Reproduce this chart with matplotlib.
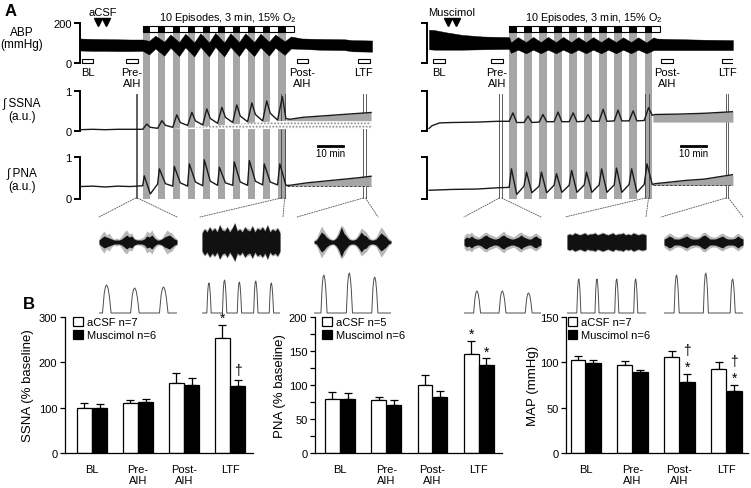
import matplotlib
matplotlib.use('Agg')
import matplotlib.pyplot as plt
from matplotlib.patches import Patch, ConnectionPatch

plt.rcParams['font.family'] = ['Liberation Sans', 'DejaVu Sans']
plt.rcParams['mathtext.fontset'] = 'custom'
plt.rcParams['mathtext.rm'] = 'Liberation Sans'
plt.rcParams['hatch.linewidth'] = 0.9
plt.rcParams['hatch.color'] = '#8c8c8c'

W, H = 751, 489

# ======================= Panel B data =======================
groups = ['BL', 'Pre-\nAIH', 'Post-\nAIH', 'LTF']
ssna_acsf = [99, 111, 154, 254]
ssna_acsf_err = [11, 6, 22, 29]
ssna_musc = [99, 112, 150, 148]
ssna_musc_err = [9, 7, 16, 13]
pna_acsf = [80, 78, 100, 146]
pna_acsf_err = [10, 4, 14, 19]
pna_musc = [80, 71, 82, 129]
pna_musc_err = [8, 7, 9, 10]
map_acsf = [103, 97, 106, 93]
map_acsf_err = [4, 4, 7, 7]
map_musc = [99.5, 89, 78.5, 68.5]
map_musc_err = [3.5, 2, 9, 7]
ssna_acsf_sig = ['', '', '', '*']
ssna_musc_sig = ['', '', '', '†']
pna_acsf_sig = ['', '', '', '*']
pna_musc_sig = ['', '', '', '*']
map_acsf_sig = ['', '', '', '']
map_musc_sig = ['', '', '†\n*', '†\n*']

# ======================= Panel A data (minutes) =======================
ep_starts_l = [24.9, 30.9, 36.8, 42.8, 48.7, 54.7, 60.6, 66.6, 72.5, 78.7]
ep_starts_r = [32.6, 38.6, 44.5, 50.5, 56.5, 62.4, 68.4, 74.3, 80.3, 86.4]
ep_bar_len = 60.0
win_l = [0.7, 18.3, 86.0, 110.3]
win_r = [2.4, 25.4, 92.9, 117.1]
win_labels = ['BL', 'Pre-\nAIH', 'Post-\nAIH', 'LTF']
drug_t_l = [7.3, 10.5]
drug_t_r = [8.3, 11.5]
mark_l = [[22.1, 22.8], [79.8, 81.2], [112.4, 113.3]]
mark_r = [[28.7, 29.6], [86.6, 87.9], [118.6, 119.6]]
tmax_l = 115.9
tmax_r = 121.4

# ABP envelopes (mmHg)
abp_l_pre_t = [0, 5, 10, 15, 20, 24.9]
abp_l_pre_hi = [120, 118, 117, 116, 115, 115]
abp_l_pre_lo = [60, 58, 58, 57, 57, 58]
abp_l_hyp_hi = [108, 104, 102, 100, 100, 100, 102, 102, 104, 106]
abp_l_hyp_lo = [40, 34, 32, 30, 30, 30, 32, 32, 34, 38]
abp_l_rec_hi = [134, 140, 144, 146, 148, 146, 146, 144, 140, 130]
abp_l_rec_lo = [70, 74, 76, 78, 78, 78, 76, 76, 74, 70]
abp_l_post_t = [88, 95, 105, 108, 115.9]
abp_l_post_hi = [120, 118, 116, 112, 110]
abp_l_post_lo = [68, 64, 62, 56, 54]

abp_r_pre_t = [0.8, 3, 8, 14, 22, 32.6]
abp_r_pre_hi = [164, 162, 150, 138, 130, 127]
abp_r_pre_lo = [66, 64, 64, 64, 66, 68]
abp_r_hyp_hi = [100, 102, 102, 102, 102, 102, 102, 102, 102, 100]
abp_r_hyp_lo = [48, 46, 46, 46, 46, 46, 46, 46, 46, 46]
abp_r_rec_hi = [127, 128, 128, 128, 127, 127, 126, 126, 126, 126]
abp_r_rec_lo = [64, 64, 64, 64, 64, 64, 64, 64, 64, 62]
abp_r_post_t = [91, 95, 110, 121.4]
abp_r_post_hi = [120, 118, 114, 112]
abp_r_post_lo = [62, 62, 62, 62]

# Integrated SSNA / PNA (a.u.)
ssna_l_pre_t = [0, 5, 10, 15, 20, 24.9]
ssna_l_pre_v = [0.02, 0.03, 0.02, 0.03, 0.03, 0.03]
ssna_l_peak = [0.16, 0.245, 0.39, 0.455, 0.54, 0.58, 0.64, 0.69, 0.74, 0.85]
ssna_l_mid = [0.08, 0.13, 0.2, 0.24, 0.3, 0.33, 0.36, 0.4, 0.43, 0.3]
ssna_l_trough = [0.055, 0.08, 0.125, 0.14, 0.18, 0.2, 0.22, 0.24, 0.26]
ssna_l_post_t = [83.3, 88.5, 102, 115.5]
ssna_l_post_v = [0.28, 0.33, 0.39, 0.45]
ssna_l_hatch_t = [37, 50, 60, 70, 82, 115.5]
ssna_l_hatch_top = [0.04, 0.1, 0.15, 0.2, 0.245, 0.245]

pna_l_pre_t = [0, 5, 10, 15, 20, 24.9]
pna_l_pre_v = [0.29, 0.3, 0.28, 0.3, 0.29, 0.31]
pna_l_peak = [0.55, 0.72, 0.78, 0.84, 0.94, 0.76, 0.89, 0.92, 0.84, 0.84]
pna_l_mid = [0.11, 0.36, 0.38, 0.4, 0.42, 0.38, 0.4, 0.42, 0.4, 0.32]
pna_l_trough = [0.35, 0.3, 0.3, 0.31, 0.32, 0.32, 0.32, 0.33, 0.33]
pna_l_post_t = [83.3, 90, 100, 110, 115.5]
pna_l_post_v = [0.32, 0.38, 0.44, 0.5, 0.54]
pna_l_base = 0.3

ssna_r_pre_t = [0.8, 2.0, 5, 10, 20, 28, 32.6]
ssna_r_pre_v = [0.05, 0.12, 0.19, 0.2, 0.21, 0.23, 0.23]
ssna_r_peak = [0.44, 0.36, 0.4, 0.46, 0.44, 0.4, 0.53, 0.51, 0.49, 0.57]
ssna_r_mid = [0.2, 0.2, 0.22, 0.22, 0.22, 0.23, 0.23, 0.24, 0.24, 0.38]
ssna_r_trough = [0.2, 0.21, 0.22, 0.22, 0.23, 0.23, 0.24, 0.24, 0.25]
ssna_r_post_t = [90.5, 100, 110, 121.4]
ssna_r_post_v = [0.4, 0.41, 0.43, 0.47]
ssna_r_base = 0.21

pna_r_pre_t = [0.8, 10, 20, 28, 32.6]
pna_r_pre_v = [0.2, 0.22, 0.23, 0.26, 0.27]
pna_r_peak = [0.72, 0.64, 0.64, 0.6, 0.68, 0.64, 0.72, 0.74, 0.72, 0.84]
pna_r_mid = [0.1, 0.14, 0.14, 0.15, 0.15, 0.15, 0.15, 0.15, 0.15, 0.34]
pna_r_trough = [0.3, 0.3, 0.32, 0.32, 0.33, 0.33, 0.33, 0.34, 0.34]
pna_r_post_t = [90.5, 103, 110, 121.4]
pna_r_post_v = [0.36, 0.44, 0.47, 0.58]
pna_r_base = 0.32

# Insets: raw envelopes (px-like units) and integrated bursts
raw_grey = [
    [3, 8, 11, 7, 9, 5, 3, 4, 3, 6, 10, 12, 8, 9, 4, 3, 3, 4, 6, 11, 9, 12, 7, 4, 3, 4, 8, 12, 10, 9, 5, 3],
    [11, 14, 12, 16, 13, 15, 12, 18, 14, 13, 16, 12, 15, 20, 13, 14, 12, 16, 14, 13, 17, 12, 15, 14, 16, 13, 18, 12, 14, 13, 15, 11],
    [2, 4, 10, 16, 12, 8, 5, 3, 3, 6, 12, 17, 14, 9, 5, 3, 3, 5, 9, 14, 12, 10, 6, 3, 3, 5, 10, 15, 12, 8, 4, 2],
    [6, 9, 8, 10, 7, 6, 5, 7, 9, 10, 8, 7, 6, 5, 7, 9, 11, 8, 7, 6, 5, 7, 9, 10, 8, 7, 6, 6, 8, 9, 7, 5],
    [8, 9, 8, 10, 9, 8, 9, 10, 8, 9, 9, 10, 8, 9, 10, 9, 8, 9, 10, 8, 9, 9, 10, 8, 9, 8, 10, 9, 8, 9, 9, 8],
    [5, 7, 9, 8, 6, 5, 5, 6, 8, 9, 7, 6, 5, 5, 6, 9, 10, 8, 6, 5, 5, 6, 8, 9, 7, 6, 5, 5, 7, 9, 7, 5],
]
raw_black = [
    [2, 4, 6, 5, 4, 3, 2, 2, 2, 3, 5, 7, 5, 6, 3, 2, 2, 2, 3, 6, 5, 7, 4, 2, 2, 3, 5, 6, 7, 5, 3, 2],
    [9, 13, 10, 15, 11, 14, 10, 17, 12, 11, 15, 10, 14, 19, 11, 13, 10, 15, 12, 11, 16, 10, 14, 12, 15, 11, 17, 10, 13, 11, 14, 9],
    [1, 2, 6, 10, 8, 5, 3, 2, 2, 4, 8, 15, 9, 6, 3, 2, 2, 3, 6, 10, 7, 6, 3, 2, 2, 3, 6, 9, 7, 5, 2, 1],
    [3, 5, 4, 6, 4, 3, 3, 4, 6, 7, 5, 4, 3, 3, 4, 6, 7, 5, 4, 3, 3, 4, 5, 7, 5, 4, 3, 3, 5, 6, 4, 3],
    [7, 8, 7, 9, 8, 7, 8, 9, 7, 8, 8, 9, 7, 8, 9, 8, 7, 8, 9, 7, 8, 8, 9, 7, 8, 7, 9, 8, 7, 8, 8, 7],
    [3, 4, 6, 5, 3, 3, 3, 4, 5, 6, 4, 3, 3, 3, 4, 6, 7, 5, 3, 3, 3, 4, 5, 6, 4, 3, 3, 3, 4, 6, 4, 3],
]
burst_pos = [
    [0.10, 0.46, 0.83],
    [0.09, 0.29, 0.48, 0.69, 0.89],
    [0.13, 0.46, 0.79],
    [0.17, 0.50, 0.84],
    [0.15, 0.38, 0.63, 0.87],
    [0.16, 0.53, 0.87],
]
burst_h = [
    [28, 25, 26],
    [30, 33, 31, 32, 30],
    [38, 40, 36],
    [22, 22, 20],
    [34, 34, 34, 34],
    [38, 40, 34],
]
burst_hw = [0.055, 0.028, 0.04, 0.045, 0.026, 0.032]
burst_shape_x = [-1.0, -0.6, -0.3, 0.0, 0.3, 0.6, 1.0]
burst_shape_y = [0.0, 0.7, 0.95, 1.0, 0.88, 0.6, 0.0]

# ======================= helpers =======================
fig = plt.figure(figsize=(W / 100, H / 100), dpi=100)


def rect(x0, y0, x1, y1):
    return [x0 / W, 1 - y1 / H, (x1 - x0) / W, (y1 - y0) / H]


def build_env(pre_t, pre_v, starts, d1, v1, d2, v2, post_t, post_v):
    t = list(pre_t)
    v = list(pre_v)
    for s, a, b in zip(starts, v1, v2):
        t += [s + d1, s + d2]
        v += [a, b]
    return t + list(post_t), v + list(post_v)


def build_int(pre_t, pre_v, starts, d_pk, peaks, mids, troughs, post_t, post_v):
    t = list(pre_t)
    v = list(pre_v)
    for k, s in enumerate(starts):
        t += [s + d_pk, s + 3.0]
        v += [peaks[k], mids[k]]
        if k < len(troughs):
            t.append(s + 5.9)
            v.append(troughs[k])
    return t + list(post_t), v + list(post_v)


GREY = '#a6a6a6'
TXT = 8


def style_row(ax, tmax, ylim, ticks, labels):
    ax.set_xlim(0, tmax)
    ax.set_ylim(*ylim)
    ax.patch.set_alpha(0)
    for s in ['top', 'right', 'bottom']:
        ax.spines[s].set_visible(False)
    ax.spines['left'].set_linewidth(1.4)
    ax.spines['left'].set_bounds(ticks[0], ticks[-1])
    ax.set_xticks([])
    ax.set_yticks(ticks)
    ax.tick_params(axis='y', length=4, width=1.4, pad=2, labelsize=TXT)
    if labels:
        ax.set_yticklabels([str(t) for t in ticks])
    else:
        ax.set_yticklabels([])


def side(x0, tmax, starts, wins, drug_t, drug_lbl, marks, abp, ssna, pna,
         labels, scalebar_t):
    x1 = x0 + tmax * 2.52
    bg = fig.add_axes(rect(x0, 0, x1, 220))
    bg.set_xlim(0, tmax)
    bg.set_ylim(220, 0)
    bg.axis('off')
    bg.bar(starts, 199.5 - 32.7, width=3.0, bottom=32.7, align='edge',
           color=GREY, lw=0, zorder=1)
    bg.bar([starts[0]], 5.4, width=ep_bar_len, bottom=27.3, align='edge',
           facecolor='white', edgecolor='black', lw=0.8, zorder=2)
    bg.bar(starts, 5.4, width=3.0, bottom=27.3, align='edge',
           color='black', lw=0, zorder=3)
    bg.text(starts[0] + ep_bar_len * 0.56, 21, '10 Episodes, 3 min, 15% O$_2$',
            ha='center', va='baseline', fontsize=7.8)
    bg.bar(wins, 4.0, width=4.6, bottom=60.3, align='edge',
           facecolor='white', edgecolor='black', lw=0.8, zorder=3)
    for w, lbl in zip(wins, win_labels):
        bg.text(w + 2.3, 68.5, lbl, ha='center', va='top', fontsize=TXT,
                linespacing=1.05)
    bg.plot(drug_t, [22.5, 22.5], ls='none', marker='v', ms=6, color='black')
    bg.text(sum(drug_t) / 2, 15.5, drug_lbl, ha='center', va='baseline', fontsize=TXT)
    for pair in marks:
        for mt in pair:
            bg.plot([mt, mt], [95, 199], color='#444444', lw=0.6, zorder=4)
    bg.plot(scalebar_t, [146.5, 146.5], color='black', lw=2)
    bg.text(sum(scalebar_t) / 2, 157, '10 min', ha='center', va='baseline', fontsize=7)

    a = fig.add_axes(rect(x0, 23.5, x1, 63.5))
    style_row(a, tmax, (0, 200), [0, 200], labels)
    a.fill_between(abp[0], abp[2], abp[1], color='black', lw=0.3)
    s = fig.add_axes(rect(x0, 91.5, x1, 131.5))
    style_row(s, tmax, (0, 1), [0, 1], labels)
    if ssna.get('hatch') is not None:
        ht, hv = ssna['hatch']
        s.fill_between(ht, [0.035] * len(ht), hv, facecolor='white',
                       hatch='.....', edgecolor='#8c8c8c', lw=0, zorder=1)
    s.fill_between(ssna['post_t'], [ssna['base']] * len(ssna['post_t']),
                   ssna['post_v'], color=GREY, lw=0, zorder=1)
    s.plot(ssna['t'], ssna['v'], color='#1a1a1a', lw=1.0, zorder=3)
    p = fig.add_axes(rect(x0, 158.3, x1, 199.5))
    style_row(p, tmax, (0, 1), [0, 1], labels)
    p.fill_between(pna['post_t'], [pna['base']] * len(pna['post_t']),
                   pna['post_v'], color=GREY, lw=0, zorder=1)
    p.plot(pna['post_t'], [pna['base']] * len(pna['post_t']), color='#333333',
           lw=0.6, ls=(0, (3, 2)), zorder=2)
    p.plot(pna['t'], pna['v'], color='#1a1a1a', lw=1.0, zorder=3)
    return bg


abp_l = build_env(abp_l_pre_t, abp_l_pre_hi, ep_starts_l, 2.5, abp_l_hyp_hi, 5.0,
                  abp_l_rec_hi, abp_l_post_t, abp_l_post_hi)
abp_l_lo = build_env(abp_l_pre_t, abp_l_pre_lo, ep_starts_l, 2.5, abp_l_hyp_lo, 5.0,
                     abp_l_rec_lo, abp_l_post_t, abp_l_post_lo)
ssna_l = build_int(ssna_l_pre_t, ssna_l_pre_v, ep_starts_l, 1.6, ssna_l_peak,
                   ssna_l_mid, ssna_l_trough, ssna_l_post_t, ssna_l_post_v)
pna_l = build_int(pna_l_pre_t, pna_l_pre_v, ep_starts_l, 0.6, pna_l_peak,
                  pna_l_mid, pna_l_trough, pna_l_post_t, pna_l_post_v)
bgL = side(80, tmax_l, ep_starts_l, win_l, drug_t_l, 'aCSF', mark_l,
           (abp_l[0], abp_l[1], abp_l_lo[1]),
           dict(t=ssna_l[0], v=ssna_l[1], post_t=[82.0] + ssna_l_post_t,
                post_v=[0.3] + ssna_l_post_v, base=0.245,
                hatch=(ssna_l_hatch_t, ssna_l_hatch_top)),
           dict(t=pna_l[0], v=pna_l[1], post_t=[82.0] + pna_l_post_t,
                post_v=[0.32] + pna_l_post_v, base=pna_l_base),
           True, [94.4, 104.4])

abp_r = build_env(abp_r_pre_t, abp_r_pre_hi, ep_starts_r, 0.7, abp_r_hyp_hi, 3.5,
                  abp_r_rec_hi, abp_r_post_t, abp_r_post_hi)
abp_r_lo = build_env(abp_r_pre_t, abp_r_pre_lo, ep_starts_r, 0.7, abp_r_hyp_lo, 3.5,
                     abp_r_rec_lo, abp_r_post_t, abp_r_post_lo)
ssna_r = build_int(ssna_r_pre_t, ssna_r_pre_v, ep_starts_r, 1.5, ssna_r_peak,
                   ssna_r_mid, ssna_r_trough, ssna_r_post_t, ssna_r_post_v)
pna_r = build_int(pna_r_pre_t, pna_r_pre_v, ep_starts_r, 0.9, pna_r_peak,
                  pna_r_mid, pna_r_trough, pna_r_post_t, pna_r_post_v)
bgR = side(427, tmax_r, ep_starts_r, win_r, drug_t_r, 'Muscimol', mark_r,
           (abp_r[0], abp_r[1], abp_r_lo[1]),
           dict(t=ssna_r[0], v=ssna_r[1], post_t=[89.6] + ssna_r_post_t,
                post_v=[0.38] + ssna_r_post_v, base=ssna_r_base, hatch=None),
           dict(t=pna_r[0], v=pna_r[1], post_t=[89.6] + pna_r_post_t,
                post_v=[0.34] + pna_r_post_v, base=pna_r_base),
           False, [100.8, 110.8])

for y, txt in [(32.5, 'ABP'), (45, '(mmHg)'), (103, '\u222b SSNA'), (117, '(a.u.)'),
               (173, '\u222b PNA'), (187, '(a.u.)')]:
    fig.text(22 / W, 1 - y / H, txt, ha='center', va='center', fontsize=8.5)
fig.text(5 / W, 1 - 4 / H, 'A', ha='left', va='top', fontsize=12, fontweight='bold')

inset_x = [(99, 177), (202, 280), (314, 391), (464, 541), (567, 646), (664, 743)]
conn_src = [(bgL, mark_l[0]), (bgL, mark_l[1]), (bgL, mark_l[2]),
            (bgR, mark_r[0]), (bgR, mark_r[1]), (bgR, mark_r[2])]
conn_dst = [(99, 177), (200, 283), (297, 378), (464, 541), (565, 646), (661, 743)]
for i, (xa, xb) in enumerate(inset_x):
    n = len(raw_grey[i])
    xs = [j / (n - 1) for j in range(n)]
    r = fig.add_axes(rect(xa, 219, xb, 267))
    r.set_xlim(0, 1)
    r.set_ylim(-24, 24)
    r.axis('off')
    r.fill_between(xs, [-g for g in raw_grey[i]], raw_grey[i], color='#b8b8b8', lw=0)
    r.fill_between(xs, [-b for b in raw_black[i]], raw_black[i], color='#111111', lw=0)
    ig = fig.add_axes(rect(xa, 270, xb, 316))
    ig.set_xlim(0, 1)
    ig.set_ylim(-2, 44)
    ig.axis('off')
    tx = [0.0]
    ty = [0.0]
    for c, hgt in zip(burst_pos[i], burst_h[i]):
        for sx, sy in zip(burst_shape_x, burst_shape_y):
            tx.append(c + sx * burst_hw[i])
            ty.append(sy * hgt)
    tx.append(1.0)
    ty.append(0.0)
    ig.plot(tx, ty, color='#4d4d4d', lw=0.7)
    src_ax, pair = conn_src[i]
    for mt, dx in zip(pair, conn_dst[i]):
        con = ConnectionPatch(xyA=(mt, 199), coordsA=src_ax.transData,
                              xyB=(dx, H - 218), coordsB='figure pixels',
                              color='#555555', lw=0.6, ls=(0, (1.5, 1.5)))
        fig.add_artist(con)


# ======================= Panel B =======================
def bar_chart(r, data, ylim, yticks, minor, ylabel, xlim, leg_labels, leg_x, lab_x):
    ax = fig.add_axes(r)
    a, ae, m, me, asig, msig = data
    xs = list(range(len(groups)))
    off = 0.165
    w = 0.315
    xa = [x - off for x in xs]
    xm = [x + off for x in xs]
    ax.bar(xa, a, width=w, color='white', edgecolor='black', lw=0.9, zorder=2)
    ax.bar(xm, m, width=w, color='black', edgecolor='black', lw=0.9, zorder=2)
    ax.errorbar(xa, a, yerr=[[0] * 4, ae], fmt='none', ecolor='black',
                elinewidth=0.9, capsize=3, capthick=0.9, zorder=1)
    ax.errorbar(xm, m, yerr=[[0] * 4, me], fmt='none', ecolor='black',
                elinewidth=0.9, capsize=3, capthick=0.9, zorder=1)
    for xx, v, e, sg in list(zip(xa, a, ae, asig)) + list(zip(xm, m, me, msig)):
        if sg:
            dy = 2 if sg == '†' else 0
            ax.annotate(sg, xy=(xx, v + e), xytext=(0, dy), textcoords='offset points',
                        ha='center', va='bottom', fontsize=10, linespacing=1.2,
                        annotation_clip=False)
    ax.set_xlim(*xlim)
    ax.set_ylim(*ylim)
    ax.set_yticks(yticks)
    if minor:
        ax.set_yticks(minor, minor=True)
    ax.set_xticks(xs)
    ax.set_xticklabels(groups, fontsize=8, linespacing=1.1)
    ax.tick_params(axis='x', length=0, pad=8)
    ax.tick_params(axis='y', which='both', length=3.5, width=0.9, labelsize=8, pad=2)
    ax.spines['top'].set_visible(False)
    ax.spines['right'].set_visible(False)
    ax.spines['left'].set_linewidth(0.9)
    ax.spines['bottom'].set_linewidth(0.9)
    ax.set_ylabel(ylabel, fontsize=9.5)
    ax.yaxis.set_label_coords(lab_x, 0.5)
    handles = [Patch(facecolor='white', edgecolor='black', lw=0.9),
               Patch(facecolor='black', edgecolor='black', lw=0.9)]
    ax.legend(handles, leg_labels, loc='upper left', bbox_to_anchor=(leg_x, 1.0),
              frameon=False, fontsize=8, handlelength=0.85, handleheight=0.85,
              handletextpad=0.35, labelspacing=0.25, borderaxespad=0, borderpad=0)
    return ax


bar_chart(rect(65, 318, 253, 454),
          (ssna_acsf, ssna_acsf_err, ssna_musc, ssna_musc_err, ssna_acsf_sig, ssna_musc_sig),
          (0, 300), [0, 100, 200, 300], None, 'SSNA (% baseline)', (-0.587, 3.5),
          ['aCSF n=7', 'Muscimol n=6'], 0.045, -0.167)
bar_chart(rect(315, 318, 502, 454),
          (pna_acsf, pna_acsf_err, pna_musc, pna_musc_err, pna_acsf_sig, pna_musc_sig),
          (0, 200), [0, 50, 100, 150, 200], [25, 75, 125, 175], 'PNA (% baseline)',
          (-0.54, 3.5), ['aCSF n=5', 'Muscimol n=6'], 0.04, -0.155)
bar_chart(rect(566, 318, 748, 454),
          (map_acsf, map_acsf_err, map_musc, map_musc_err, map_acsf_sig, map_musc_sig),
          (0, 150), [0, 50, 100, 150], None, 'MAP (mmHg)', (-0.42, 3.46),
          ['aCSF n=7', 'Muscimol n=6'], 0.01, -0.151)
fig.text(23 / W, 1 - 297 / H, 'B', ha='left', va='top', fontsize=12, fontweight='bold')

fig.savefig('out.png', dpi=100)
